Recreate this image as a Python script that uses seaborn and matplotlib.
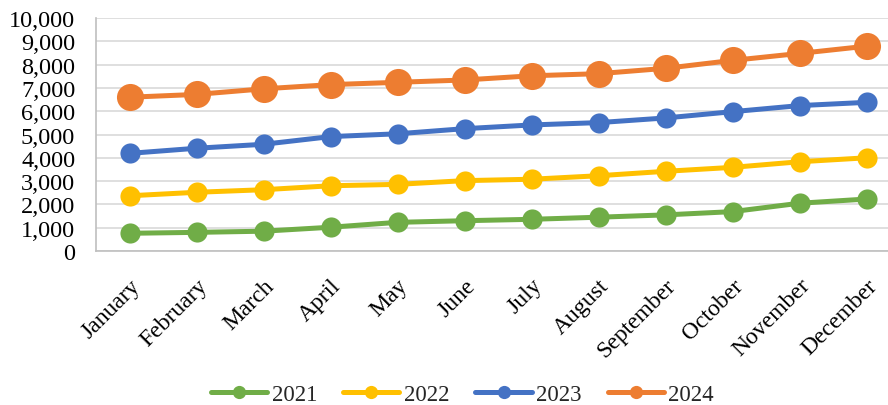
import matplotlib
matplotlib.use("Agg")
import matplotlib.pyplot as plt
from matplotlib.lines import Line2D
from matplotlib.ticker import FuncFormatter
import seaborn as sns
import pandas as pd

months = ["January", "February", "March", "April", "May", "June", "July",
          "August", "September", "October", "November", "December"]
y2021 = [760, 800, 850, 1020, 1230, 1300, 1360, 1450, 1550, 1690, 2050, 2230]
y2022 = [2370, 2520, 2630, 2800, 2860, 3020, 3080, 3230, 3420, 3590, 3830, 4000]
y2023 = [4190, 4410, 4580, 4910, 5030, 5250, 5410, 5510, 5710, 5980, 6240, 6380]
y2024 = [6600, 6720, 6960, 7140, 7240, 7340, 7520, 7610, 7840, 8180, 8480, 8790]
years = ["2021", "2022", "2023", "2024"]
colors = ["#70AD47", "#FFC000", "#4472C4", "#ED7D31"]

sns.set_theme(style="white")
plt.rcParams['font.family'] = ['Liberation Serif', 'DejaVu Serif']

fig = plt.figure(figsize=(8.88, 4.06), dpi=100)
ax = fig.add_axes([96/888, 1-252/406, 804/888, 233/406])

series = [y2021, y2022, y2023, y2024]
msizes = [14.5, 14.5, 14.5, 19.5]
for yr, vals, c, ms in zip(years, series, colors, msizes):
    df = pd.DataFrame({"month": months, "value": vals})
    sns.lineplot(data=df, x="month", y="value", ax=ax, color=c, lw=3.6,
                 marker="o", markersize=ms, markeredgewidth=0, sort=False,
                 legend=False)

ax.set_ylim(0, 10000)
ax.set_xlim(-0.5, 11.5)
ax.set_yticks(range(0, 10001, 1000))
ax.yaxis.set_major_formatter(FuncFormatter(lambda v, p: f"{int(v):,}"))
ax.grid(axis="y", color="#D9D9D9", lw=1.2)
ax.set_axisbelow(True)
for s in ["top", "right"]:
    ax.spines[s].set_visible(False)
for s in ["left", "bottom"]:
    ax.spines[s].set_color("#BFBFBF")
    ax.spines[s].set_linewidth(1.2)
ax.set_xlabel("")
ax.set_ylabel("")
ax.tick_params(axis="y", labelsize=17.5, pad=15, length=0, labelcolor="black")
ax.tick_params(axis="x", labelsize=17, pad=17, length=0, labelcolor="black")
plt.setp(ax.get_xticklabels(), rotation=45, ha="right", rotation_mode="anchor")

handles = [Line2D([0], [0], color=c, lw=3.6, marker="o", markersize=9.5,
                  markeredgewidth=0) for c in colors]
fig.legend(handles, years, loc="center", bbox_to_anchor=(0.521, 0.027),
           ncol=4, frameon=False, fontsize=16.5, handlelength=2.45,
           handletextpad=0.2, columnspacing=1.13, borderpad=0, borderaxespad=0)

fig.savefig("out.png", dpi=100)
